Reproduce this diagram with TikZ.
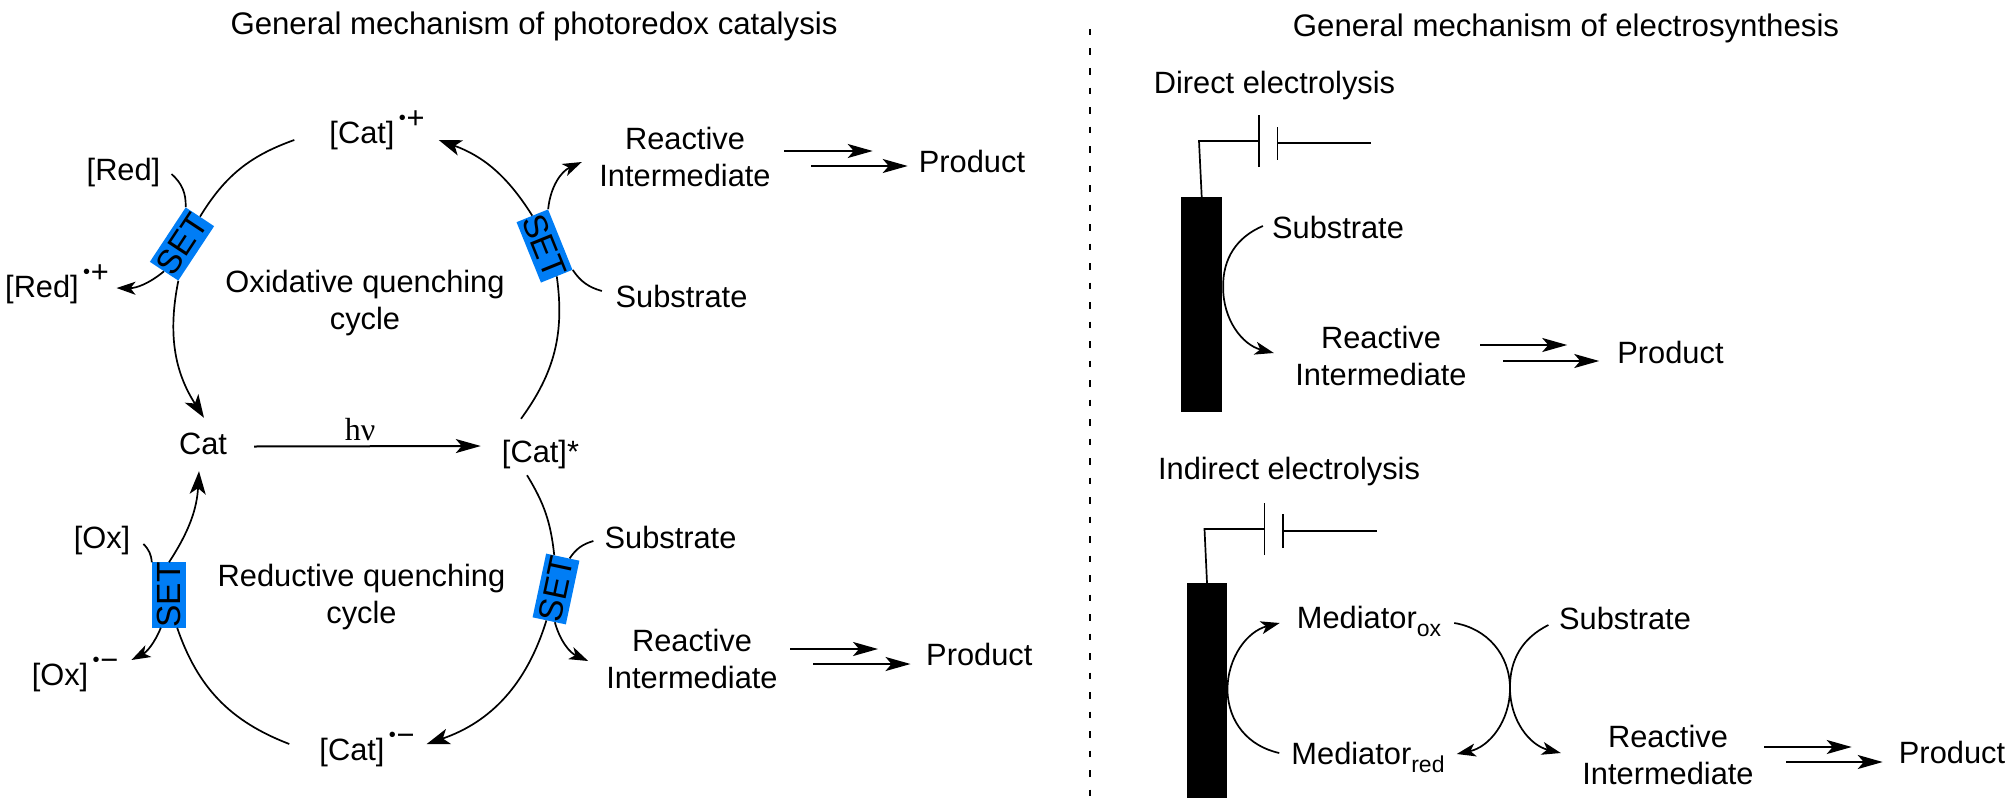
\documentclass[tikz,border=0pt]{standalone}
\usepackage{fontspec}
\setmainfont{Liberation Sans}
\newfontfamily\serifnu{Liberation Serif}
\usetikzlibrary{arrows.meta}
\definecolor{setblue}{HTML}{007DF5}
\newcommand{\radsup}[1]{\raisebox{.6em}{\fontsize{20}{20}\selectfont\hspace{.22em}•}\raisebox{.46em}{\hspace{.02em}#1}}
\newcommand{\medsub}[1]{\raisebox{-.27em}{\fontsize{23}{23}\selectfont #1}}

\begin{document}
\begin{tikzpicture}[
  x=1pt, y=-1pt,
  font=\fontsize{30.8}{37}\selectfont,
  lbl/.style={anchor=base, inner sep=0pt, text height=22pt, text depth=7pt},
  hd/.style={lbl, font=\fontsize{31.2}{37}\selectfont},
  twoline/.style={align=center, inner sep=0pt},
  setbox/.style={fill=setblue, inner sep=0pt, minimum width=65pt, minimum height=34pt, font=\fontsize{33.5}{37}\selectfont},
  elec/.style={fill=black, inner sep=0pt, minimum width=40.5pt, minimum height=215pt},
  thn/.style={line width=1.7pt, draw=black},
  arc/.style={thn, -{Stealth[length=23pt, width=16pt, inset=6pt]}},
  side/.style={thn, -{Stealth[length=19pt, width=13pt, inset=5pt]}},
  arr/.style={line width=2pt, draw=black, -{Stealth[length=25pt, width=14pt, inset=6pt]}},
]
\useasboundingbox (0,0) rectangle (2015,808);

%% ============ Titles ============
\node[hd] (title1) at (534,35) {General mechanism of photoredox catalysis};
\node[hd] (title2) at (1566,37) {General mechanism of electrosynthesis};
\coordinate (dashA) at (1090,29);
\coordinate (dashB) at (1090,799);
\draw[line width=1.6pt, dash pattern=on 6.5pt off 13pt] (dashA) -- (dashB);

%% ============ Photoredox: species ============
\node[lbl] (catp) at (377,143) {[Cat]\radsup{+}};
\node[lbl] (cat) at (203,454) {Cat};
\node[lbl] (catx) at (540.5,462) {[Cat]*};
\node[lbl] (catm) at (367,760) {[Cat]\radsup{−}};
\node[lbl, font=\serifnu\fontsize{32}{37}\selectfont] (hv) at (360,440) {hν};
\node[lbl] (red) at (123.5,180) {[Red]};
\node[lbl] (redp) at (57,297) {[Red]\radsup{+}};
\node[lbl] (ox) at (102,548) {[Ox]};
\node[lbl] (oxm) at (75,685) {[Ox]\radsup{−}};
\node[lbl] (sub1) at (681.5,307) {Substrate};
\node[lbl] (sub2) at (670.5,548) {Substrate};
\node[twoline] (ri1) at (685,156.5) {Reactive\\Intermediate};
\node[twoline] (ri2) at (692,659) {Reactive\\Intermediate};
\node[lbl] (prod1) at (972,172) {Product};
\node[lbl] (prod2) at (979.3,665) {Product};
\node[twoline] (oxq) at (365,303) {Oxidative quenching\\cycle};
\node[twoline] (redq) at (361.5,597.5) {Reductive quenching\\cycle};

%% ============ Photoredox: SET boxes ============
\node[setbox, rotate=56.6] (set1) at (182,244) {SET};
\node[setbox, rotate=-68] (set2) at (544.5,246) {SET};
\node[setbox, rotate=90] (set3) at (169,595) {SET};
\node[setbox, rotate=78] (set4) at (556,589) {SET};

%% ============ Photoredox: cycles ============
\draw[arr] ([shift={(27,0)}]cat.east) -- ([shift={(-21,-8.5)}]catx.west);
% oxidative cycle
\draw[thn] ([shift={(-19.5,-21)}]catx.north) to[bend right=22] (set2.east);
\draw[arc] (set2.west) to[bend right=19] ([shift={(14,4.5)}]catp.east);
\draw[thn] ([shift={(-35,4.5)}]catp.west) to[bend right=19.5] (set1.east);
\draw[arc] (set1.south west) to[bend right=22] ([shift={(1,-14)}]cat.north);
% reductive cycle
\draw[thn] ([shift={(-13.5,6)}]catx.south) to[bend left=12.7] (set4.15);
\draw[arc] (set4.175) to[bend left=27] ([shift={(12,-8.5)}]catm.east);
\draw[thn] ([shift={(-30,-8.5)}]catm.west) to[bend left=25] (set3.194);
\draw[arc] (set3.east) to[bend right=15] ([shift={(-4,10)}]cat.south);
% side reactions
\draw[thn] ([shift={(11,1.5)}]red.east) to[bend left=25] (set1.north east);
\draw[side] (set1.west) to[bend left=20] ([shift={(7.5,-1.5)}]redp.east);
\draw[thn] ([shift={(13,3.5)}]ox.east) to[bend left=20] (set3.north east);
\draw[side] (set3.166) to[bend left=20] ([shift={(13,-17.5)}]oxm.east);
\draw[thn] ([shift={(-13.5,-8.5)}]sub1.west) to[bend left=20] (set2.north east);
\draw[side] (set2.north west) to[bend left=30] ([shift={(-17.4,5.5)}]ri1.west);
\draw[thn] ([shift={(-11,0.5)}]sub2.west) to[bend right=20] (set4.-12);
\draw[side] (set4.190) to[bend right=25] ([shift={(-18,2)}]ri2.west);
% to product
\draw[arr] ([shift={(13.4,-5.5)}]ri1.east) -- ([shift={(-46,-13.5)}]prod1.west);
\draw[arr] ([shift={(40.4,9.5)}]ri1.east) -- ([shift={(-11,1.5)}]prod1.west);
\draw[arr] ([shift={(12.4,-10)}]ri2.east) -- ([shift={(-48,-8.5)}]prod2.west);
\draw[arr] ([shift={(35.4,5)}]ri2.east) -- ([shift={(-15.5,6.5)}]prod2.west);

%% ============ Direct electrolysis ============
\node[lbl] (dir) at (1274.5,93) {Direct electrolysis};
\node[elec] (elec1) at (1201.7,304.5) {};
\node[lbl] (sub3) at (1338,238) {Substrate};
\node[twoline] (ri3) at (1381,356) {Reactive\\Intermediate};
\node[lbl] (prod3) at (1670.5,363) {Product};
\coordinate (cornA) at (1199,141);
\coordinate (batA) at (1259,141);
\coordinate (batB) at (1277.5,143);
\coordinate (batC) at (1371,143);
\draw[thn] (elec1.north) -- (cornA) -- (batA);
\draw[thn] ([yshift=-26pt]batA) -- ([yshift=26pt]batA);
\draw[thn] ([yshift=-16.5pt]batB) -- ([yshift=16.5pt]batB);
\draw[line width=2pt] (batB) -- (batC);
\draw[side] ([shift={(-9,-4.5)}]sub3.west) to[bend right=34] ([shift={(1,-17.5)}]elec1.east) to[bend right=38] ([shift={(-21.4,-3)}]ri3.west);
\draw[arr] ([shift={(13.4,-11)}]ri3.east) -- ([shift={(-50,-10.5)}]prod3.west);
\draw[arr] ([shift={(36.4,5)}]ri3.east) -- ([shift={(-18,5.5)}]prod3.west);

%% ============ Indirect electrolysis ============
\node[lbl] (ind) at (1289,479) {Indirect electrolysis};
\node[elec] (elec2) at (1207,690.5) {};
\node[lbl] (medox) at (1369,628) {Mediator\medsub{ox}};
\node[lbl] (medred) at (1368,764) {Mediator\medsub{red}};
\node[lbl] (sub4) at (1625,629) {Substrate};
\node[twoline] (ri4) at (1668,754.5) {Reactive\\Intermediate};
\node[lbl] (prod4) at (1952,763) {Product};
\coordinate (cornB) at (1204.5,529);
\coordinate (batD) at (1264.4,529);
\coordinate (batE) at (1283,531);
\coordinate (batF) at (1377,531);
\coordinate (cross) at (1510,688);
\draw[thn] (elec2.north) -- (cornB) -- (batD);
\draw[thn] ([yshift=-26pt]batD) -- ([yshift=26pt]batD);
\draw[thn] ([yshift=-17pt]batE) -- ([yshift=17pt]batE);
\draw[line width=2pt] (batE) -- (batF);
\draw[side] ([shift={(-12,-3.5)}]medred.west) to[bend left=38] (elec2.east) to[bend left=38] ([shift={(-17,2.5)}]medox.west);
\draw[side] ([shift={(13,2.5)}]medox.east) to[bend left=40] (cross) to[bend left=39] ([shift={(12,-2.5)}]medred.east);
\draw[side] ([shift={(-10.5,3.5)}]sub4.west) to[bend right=32] (cross) to[bend right=38] ([shift={(-21.4,-1.5)}]ri4.west);
\draw[arr] ([shift={(10.4,-7.5)}]ri4.east) -- ([shift={(-47,-8.5)}]prod4.west);
\draw[arr] ([shift={(32.4,7.5)}]ri4.east) -- ([shift={(-16,6.5)}]prod4.west);

\end{tikzpicture}
\end{document}
